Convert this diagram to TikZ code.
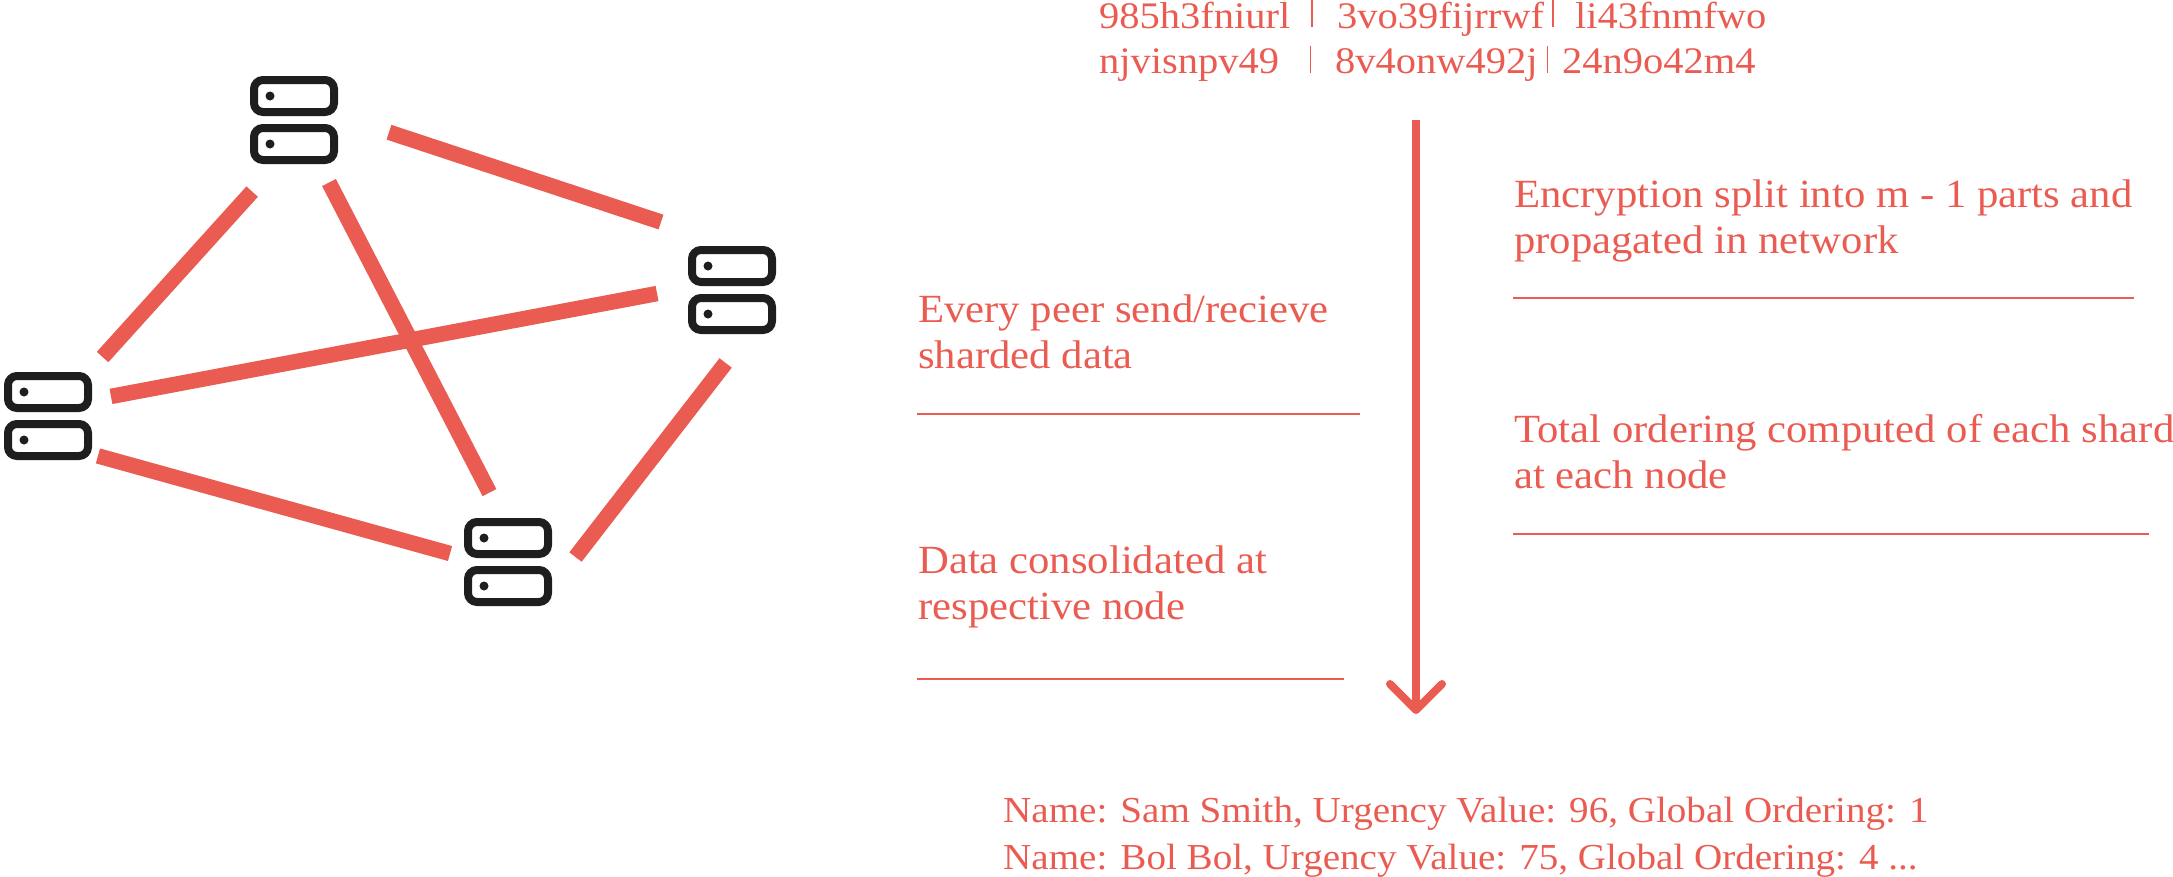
\documentclass[tikz,border=0pt]{standalone}
\usepackage{fontspec}
\setmainfont[FakeStretch=1.068]{Liberation Serif}
\newfontfamily\idfont[FakeStretch=1.08]{Liberation Serif}
\usetikzlibrary{arrows.meta}
\definecolor{linkRed}{HTML}{EA5C52}
\definecolor{serverDark}{HTML}{1E1E1E}
\tikzset{
  server/.style={minimum size=88pt, inner sep=0pt, outer sep=0pt},
  srvbox/.style={draw=serverDark, line width=8pt, rounded corners=9pt, minimum width=80pt, minimum height=32pt, inner sep=0pt, outer sep=0pt},
  srvdot/.style={circle, fill=serverDark, minimum size=9pt, inner sep=0pt},
  link/.style={draw=linkRed, line width=15.5pt},
  hrule/.style={draw=linkRed, line width=2pt},
  idrule/.style={draw=linkRed, line width=1.5pt},
  caption/.style={text=linkRed, anchor=base west, align=left, inner sep=0pt, font=\fontsize{40}{46}\selectfont},
  result/.style={caption, font=\fontsize{36.6}{47}\selectfont},
  idtext/.style={text=linkRed, anchor=base west, inner sep=0pt, font=\idfont\fontsize{37.5}{46}\selectfont}
}
\begin{document}
\begin{tikzpicture}[x=1pt, y=-1pt]
  \useasboundingbox (0,0) rectangle (2173,876);
  % servers
  \foreach \name/\px/\py in {srvTop/294/120, srvRight/732/290, srvLeft/48/416, srvBottom/508/562} {
    \node[server] (\name) at (\px,\py) {};
    \node[srvbox] (\name-up) at ([yshift=24pt]\name.center) {};
    \node[srvbox] (\name-lo) at ([yshift=-24pt]\name.center) {};
    \node[srvdot] (\name-dotup) at ([xshift=-24pt,yshift=24pt]\name.center) {};
    \node[srvdot] (\name-dotlo) at ([xshift=-24pt,yshift=-24pt]\name.center) {};
  }
  % links
  \draw[link, shorten <=53.7pt, shorten >=76.4pt] (srvTop.6.4) -- (srvRight.88);
  \draw[link, shorten <=37.2pt, shorten >=20.2pt] (srvTop.-111.1) -- (srvLeft.47.4);
  \draw[link, shorten <=31.5pt, shorten >=19.3pt] (srvRight.177.7) -- (srvLeft.20.6);
  \draw[link, shorten <=6.2pt, shorten >=14.5pt] (srvLeft.-41.8) -- (srvBottom.174.7);
  \draw[link, shorten <=20.9pt, shorten >=28.6pt] (srvTop.-60) -- (srvBottom.97.6);
  \draw[link, shorten <=36.6pt, shorten >=38.4pt] (srvRight.-70.1) -- (srvBottom.-30);
  % top ids
  \node[idtext] (idA) at (1099,28) {985h3fniurl};
  \node[idtext] (idB) at (1337,28) {3vo39fijrrwf};
  \node[idtext] (idC) at (1575,28) {li43fnmfwo};
  \node[idtext] (idD) at (1099,73) {njvisnpv49};
  \node[idtext] (idE) at (1335,73) {8v4onw492j};
  \node[idtext] (idF) at (1562,73) {24n9o42m4};
  \draw[idrule] (1312,0) -- (1312,27);
  \draw[idrule] (1553,0) -- (1553,27);
  \draw[idrule] (1310.5,46) -- (1310.5,73);
  \draw[idrule] (1547.5,46) -- (1547.5,73);
  % flow arrow
  \coordinate (flowTop) at (1416,120);
  \coordinate (flowTip) at (1416,714);
  \draw[draw=linkRed, line width=8pt, -{Straight Barb[length=26pt, width=52pt, line width=8pt, round]}] (flowTop) -- (flowTip);
  % captions
  \node[caption] (capSplit) at (1514,253) {Encryption split into m - 1 parts and\\propagated in network};
  \node[caption] (capPeer) at (918,368) {Every peer send/recieve\\sharded data};
  \node[caption] (capOrder) at (1514,488) {Total ordering computed of each shard\\at each node};
  \node[caption] (capMerge) at (918,619) {Data consolidated at\\respective node};
  \draw[hrule] (1513,298) -- (2134,298);
  \draw[hrule] (917,414) -- (1360,414);
  \draw[hrule] (1513,534) -- (2149,534);
  \draw[hrule] (917,679) -- (1344,679);
  % result
  \node[result] (capResult) at (1003,869) {Name: Sam Smith, Urgency Value: 96, Global Ordering: 1\\Name: Bol Bol, Urgency Value: 75, Global Ordering: 4 ...};
\end{tikzpicture}
\end{document}
